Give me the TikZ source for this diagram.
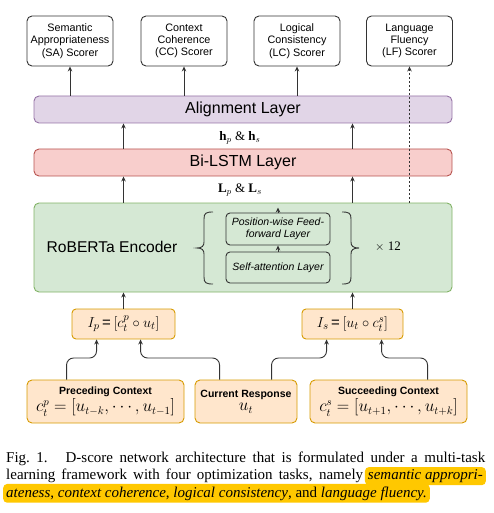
\documentclass[tikz,border=0pt]{standalone}
\usepackage{fontspec}
\setmainfont{Liberation Serif}
\setsansfont{Liberation Sans}
\usetikzlibrary{arrows.meta}
\definecolor{purpF}{HTML}{E1D5E7}
\definecolor{purpD}{HTML}{9673A6}
\definecolor{redF}{HTML}{F8CECC}
\definecolor{redD}{HTML}{B85450}
\definecolor{grnF}{HTML}{D5E8D4}
\definecolor{grnD}{HTML}{82B366}
\definecolor{orgF}{HTML}{FFE6CC}
\definecolor{orgD}{HTML}{D79B00}
\definecolor{hl}{RGB}{255,200,0}
\definecolor{ink}{HTML}{333333}
\begin{document}
\begin{tikzpicture}[x=1pt,y=-1pt,
  scorer/.style={draw=ink, line width=0.9pt, fill=white, rounded corners=5pt,
    minimum width=86pt, minimum height=50pt, inner sep=1pt, align=center,
    font=\sffamily\fontsize{10.8}{12.3}\selectfont},
  layerbox/.style={line width=0.9pt, rounded corners=5pt, minimum width=418pt,
    inner sep=0pt, font=\sffamily\fontsize{16}{18}\selectfont},
  innerbox/.style={draw=ink, line width=0.9pt, fill=grnF, rounded corners=4pt,
    minimum width=104pt, inner sep=1pt, align=center,
    font=\sffamily\itshape\fontsize{10.5}{12.5}\selectfont},
  inbox/.style={draw=orgD, fill=orgF, line width=0.9pt, rounded corners=4pt,
    minimum height=30pt, inner sep=1pt, font=\sffamily\fontsize{15}{17}\selectfont},
  ctxbox/.style={draw=orgD, fill=orgF, line width=0.9pt, rounded corners=5pt,
    minimum height=43pt, inner sep=0pt, align=center},
  arr/.style={-{Stealth[length=5pt,width=4.5pt]}, line width=0.9pt, draw=ink},
  conn/.style={arr, rounded corners=7pt},
  lbl/.style={inner sep=0pt, font=\fontsize{13}{15}\selectfont},
  captxt/.style={inner sep=0pt, font=\fontsize{15}{17}\selectfont},
  hlbox/.style={fill=hl, rounded corners=4pt, inner xsep=3pt, inner ysep=2.5pt,
    font=\fontsize{15}{17}\selectfont\itshape}
]
\useasboundingbox (0,0) rectangle (493,513);

% scorers
\node[scorer] (sa) at (70,41) {Semantic\\Appropriateness\\(SA) Scorer};
\node[scorer] (cc) at (184,41) {Context\\Coherence\\(CC) Scorer};
\node[scorer] (lc) at (297,41) {Logical\\Consistency\\(LC) Scorer};
\node[scorer] (lf) at (409.5,41) {Language\\Fluency\\(LF) Scorer};

% layers
\node[layerbox, draw=purpD, fill=purpF, minimum height=27pt] (align) at (243,109.5) {Alignment Layer};
\node[layerbox, draw=redD, fill=redF, minimum height=27pt] (lstm) at (243,162.5) {Bi-LSTM Layer};
\node[layerbox, draw=grnD, fill=grnF, minimum height=89pt] (rob) at (243,247.5) {};

\node[inner sep=0pt, font=\sffamily\fontsize{15.6}{18}\selectfont] (robt) at (112,247) {RoBERTa Encoder};
\node[innerbox, minimum height=32pt] (ff) at (278,229) {Position-wise Feed-\\forward Layer};
\node[innerbox, minimum height=31pt] (att) at (278,267.5) {Self-attention Layer};
\node[inner sep=0pt, font=\fontsize{13}{15}\selectfont] (x12) at (388,247) {$\times$ 12};
\coordinate (fftop) at (278,207.5);

% braces
\draw[ink, line width=0.9pt] (213,212) .. controls (206,212) and (204,213) .. (204,219) -- (204,242)
  .. controls (204,246) and (202,248) .. (197,248)
  .. controls (202,248) and (204,250) .. (204,254) -- (204,277)
  .. controls (204,283) and (206,284) .. (213,284);
\draw[ink, line width=0.9pt] (342,212) .. controls (349,212) and (351,213) .. (351,219) -- (351,242)
  .. controls (351,246) and (353,248) .. (359,248)
  .. controls (353,248) and (351,250) .. (351,254) -- (351,277)
  .. controls (351,283) and (349,284) .. (342,284);

% labels
\node[lbl] (hl) at (240,137.5) {$\mathbf{h}_p$ \& $\mathbf{h}_s$};
\node[lbl] (ll) at (240,190) {$\mathbf{L}_p$ \& $\mathbf{L}_s$};

% inputs
\node[inbox, minimum width=103pt] (ip) at (123.5,324) {$I_p$\,=\,$[c_t^p \circ u_t]$};
\node[inbox, minimum width=101pt] (is) at (352.5,324) {$I_s$\,=\,$[u_t \circ c_t^s]$};

% contexts
\node[ctxbox, minimum width=157pt] (prec) at (105.5,401.5)
  {{\sffamily\bfseries\fontsize{10.5}{12}\selectfont Preceding Context}\\[1.5pt]
   {\fontsize{16}{18}\selectfont $c_t^p=[u_{t-k},\cdots,u_{t-1}]$}};
\node[ctxbox, minimum width=102pt] (cur) at (246,401.5)
  {{\sffamily\bfseries\fontsize{10.5}{12}\selectfont Current Response}\\[1.5pt]
   {\fontsize{16}{18}\selectfont $u_t$}};
\node[ctxbox, minimum width=157pt] (succ) at (388.5,401.5)
  {{\sffamily\bfseries\fontsize{10.5}{12}\selectfont Succeeding Context}\\[1.5pt]
   {\fontsize{16}{18}\selectfont $c_t^s=[u_{t+1},\cdots,u_{t+k}]$}};

% connectors
\draw[arr] (align.north -| sa.south) -- (sa.south);
\draw[arr] (align.north -| cc.south) -- (cc.south);
\draw[arr] (align.north -| lc.south) -- (lc.south);
\draw[arr, dash pattern=on 2pt off 2pt] (rob.north -| lf.south) -- (lf.south);
\draw[arr] (lstm.north -| ip.north) -- (align.south -| ip.north);
\draw[arr] (lstm.north -| is.north) -- (align.south -| is.north);
\draw[arr] (rob.north -| ip.north) -- (lstm.south -| ip.north);
\draw[arr] (rob.north -| is.north) -- (lstm.south -| is.north);
\draw[arr] (ip.north) -- (rob.south -| ip.north);
\draw[arr] (is.north) -- (rob.south -| is.north);
\draw[arr] (att.north) -- (ff.south);
\draw[arr] (ff.north) -- (fftop);

\coordinate (mid) at (0,358);
\coordinate (p1) at ([xshift=40pt]prec.north west);
\coordinate (q1) at ([xshift=25pt]ip.south west);
\coordinate (p2) at ([xshift=25pt]cur.north west);
\coordinate (q2) at ([xshift=69pt]ip.south west);
\coordinate (p3) at ([xshift=77pt]cur.north west);
\coordinate (q3) at ([xshift=25pt]is.south west);
\coordinate (p4) at ([xshift=118pt]succ.north west);
\coordinate (q4) at ([xshift=80pt]is.south west);
\draw[conn] (p1) -- (p1 |- mid) -| (q1);
\draw[conn] (p2) -- (p2 |- mid) -| (q2);
\draw[conn] (p3) -- (p3 |- mid) -| (q3);
\draw[conn] (p4) -- (p4 |- mid) -| (q4);

% caption
\node[captxt, anchor=base west] (c1) at (6,462)
  {\makebox[479pt][s]{Fig.~1.\hspace{0.9em plus 0.2em}D-score network architecture that is formulated under a multi-task}};
\node[captxt, anchor=base west] (c2) at (6,479.5)
  {\makebox[357pt][s]{learning framework with four optimization tasks, namely}};
\node[hlbox, anchor=base east] (c2h) at (486,479.5) {semantic appropri-};
\node[hlbox, anchor=base west] (c3) at (3,497)
  {ateness\upshape, \itshape context coherence\upshape, \itshape logical consistency\upshape, and \itshape language fluency.};
\end{tikzpicture}
\end{document}
